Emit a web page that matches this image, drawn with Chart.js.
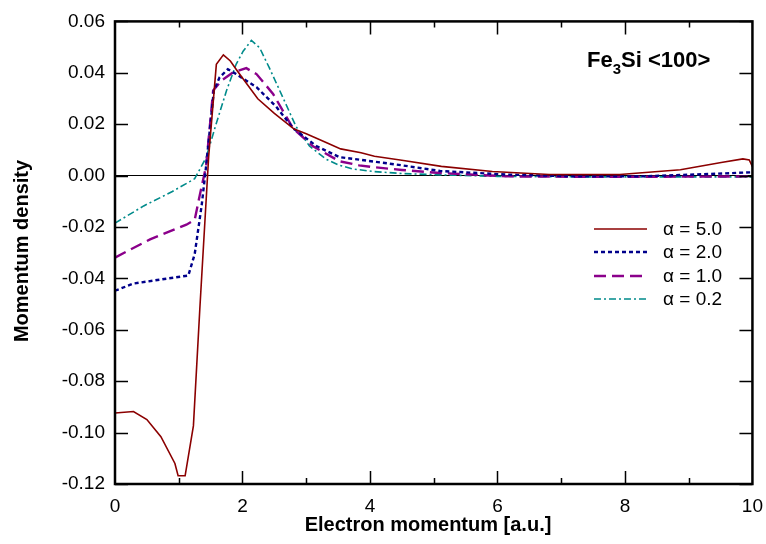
<!DOCTYPE html>
<html>
<head>
<meta charset="utf-8">
<script src="https://cdn.jsdelivr.net/npm/chart.js@4"></script>
<style>
  body { margin:0; background:#fff; }
  canvas { display:block; }
</style>
</head>
<body>
<canvas id="c" width="766" height="544"></canvas>
<script>
// values
const xA50 = [0, 0.29, 0.5, 0.72, 0.94, 0.99, 1.10, 1.23, 1.33, 1.47, 1.59, 1.70, 1.81, 1.90, 2.0, 2.24, 2.5, 2.81, 3.0, 3.33, 3.54, 3.86, 4.07, 4.5, 5.12, 5.92, 6.81, 7.92, 8.87, 9.51, 9.85, 9.95, 10];
const yA50 = [-0.0924, -0.0918, -0.0949, -0.1016, -0.112, -0.1168, -0.1168, -0.0974, -0.0522, 0.0076, 0.0433, 0.047, 0.0446, 0.0414, 0.038, 0.0299, 0.0242, 0.0181, 0.0163, 0.0127, 0.0104, 0.0089, 0.0075, 0.006, 0.0036, 0.0016, 0.0004, 0.0004, 0.0023, 0.0051, 0.0065, 0.0061, 0.0035];

const xA20 = [0, 0.29, 0.81, 1.15, 1.25, 1.36, 1.43, 1.55, 1.64, 1.77, 1.90, 2.22, 2.53, 2.79, 3.16, 3.52, 3.83, 4.05, 4.5, 5.1, 6.15, 7.21, 8.27, 9.31, 10];
const yA20 = [-0.0448, -0.042, -0.0401, -0.0389, -0.0306, -0.0115, 0.0038, 0.033, 0.0382, 0.0414, 0.0395, 0.0344, 0.0268, 0.0185, 0.0115, 0.0072, 0.0062, 0.0055, 0.004, 0.0018, 0.0004, -0.0003, -0.0003, 0.0006, 0.0013];

const xA10 = [0, 0.55, 1.12, 1.25, 1.33, 1.43, 1.54, 1.67, 1.85, 2.06, 2.22, 2.48, 2.79, 3.1, 3.52, 3.83, 4.05, 4.5, 5.1, 6.15, 7.5, 9, 10];
const yA10 = [-0.0319, -0.0248, -0.0191, -0.0172, -0.0076, 0.0038, 0.0331, 0.037, 0.0401, 0.0418, 0.0395, 0.0318, 0.0185, 0.0115, 0.0056, 0.004, 0.0033, 0.0022, 0.001, -0.0003, -0.0005, -0.0004, -0.0003];

const xA02 = [0, 0.45, 0.9, 1.25, 1.43, 1.59, 1.75, 1.90, 2.01, 2.14, 2.27, 2.42, 2.63, 2.84, 3.05, 3.31, 3.52, 3.73, 4.05, 4.5, 5.1, 6, 7.5, 9, 10];
const yA02 = [-0.0185, -0.0118, -0.0062, -0.0012, 0.007, 0.0204, 0.0331, 0.0433, 0.0484, 0.0526, 0.0497, 0.042, 0.0306, 0.0191, 0.0115, 0.0064, 0.0040, 0.0026, 0.0016, 0.0008, 0.0003, -0.0003, -0.0005, -0.0005, -0.0005];

const seriesLabels = ['\u03b1 = 5.0', '\u03b1 = 2.0', '\u03b1 = 1.0', '\u03b1 = 0.2'];
const xTickValues = [0, 2, 4, 6, 8, 10];
const yTickValues = [-0.12, -0.10, -0.08, -0.06, -0.04, -0.02, 0.00, 0.02, 0.04, 0.06];

const FONT = '"Liberation Sans", Arial, sans-serif';

function pts(xs, ys) { return xs.map((x, i) => ({ x, y: ys[i] })); }

function line(label, xs, ys, color, width, dash) {
  return {
    label, data: pts(xs, ys),
    borderColor: color, backgroundColor: color,
    borderWidth: width, borderDash: dash,
    pointRadius: 0, tension: 0, fill: false
  };
}

const datasets = [
  line(seriesLabels[0], xA50, yA50, '#8b0000', 1.6, []),
  line(seriesLabels[1], xA20, yA20, '#00008b', 2.4, [4, 3]),
  line(seriesLabels[2], xA10, yA10, '#8b008b', 2.4, [12, 6]),
  line(seriesLabels[3], xA02, yA02, '#008b8b', 1.6, [7, 3, 2, 3])
];

// frame, inward ticks, titles and legend
const decor = {
  id: 'decor',
  afterDraw(chart) {
    const { ctx, chartArea: a, scales: { x, y } } = chart;
    ctx.save();
    ctx.strokeStyle = '#000';
    ctx.lineWidth = 1.5;
    ctx.setLineDash([]);
    ctx.beginPath();
    for (let v = 1; v < 10; v++) {
      const px = Math.round(x.getPixelForValue(v)) + 0.5;
      const len = v % 2 === 0 ? 13 : 6;
      ctx.moveTo(px, a.bottom); ctx.lineTo(px, a.bottom - len);
      ctx.moveTo(px, a.top); ctx.lineTo(px, a.top + len);
    }
    yTickValues.forEach(v => {
      const py = Math.round(y.getPixelForValue(v)) + 0.5;
      ctx.moveTo(a.left, py); ctx.lineTo(a.left + 13, py);
      ctx.moveTo(a.right, py); ctx.lineTo(a.right - 13, py);
    });
    ctx.stroke();
    ctx.lineWidth = 2.5;
    ctx.strokeRect(a.left, a.top, a.right - a.left, a.bottom - a.top);

    ctx.fillStyle = '#000';
    // axis titles
    ctx.font = 'bold 20px ' + FONT;
    ctx.textAlign = 'center';
    ctx.textBaseline = 'middle';
    ctx.fillText('Electron momentum [a.u.]', 428, 525);
    ctx.save();
    ctx.translate(22, 251);
    ctx.rotate(-Math.PI / 2);
    ctx.fillText('Momentum density', 0, 0);
    ctx.restore();

    // panel label Fe3Si <100>
    ctx.textAlign = 'left';
    ctx.textBaseline = 'alphabetic';
    let tx = 587;
    ctx.font = 'bold 22px ' + FONT;
    ctx.fillText('Fe', tx, 67);
    tx += ctx.measureText('Fe').width;
    ctx.font = 'bold 15px ' + FONT;
    ctx.fillText('3', tx, 74);
    tx += ctx.measureText('3').width;
    ctx.font = 'bold 22px ' + FONT;
    ctx.fillText('Si <100>', tx, 67);

    // legend
    const rows = [229, 252, 276, 299];
    ctx.font = '19px ' + FONT;
    ctx.textBaseline = 'middle';
    chart.data.datasets.forEach((d, i) => {
      ctx.strokeStyle = d.borderColor;
      ctx.lineWidth = d.borderWidth;
      ctx.setLineDash(d.borderDash);
      ctx.beginPath();
      ctx.moveTo(594, rows[i]); ctx.lineTo(647, rows[i]);
      ctx.stroke();
      ctx.fillText(d.label, 663, rows[i] + 1);
    });
    ctx.restore();
  }
};

new Chart(document.getElementById('c').getContext('2d'), {
  type: 'line',
  data: { datasets },
  options: {
    responsive: false,
    devicePixelRatio: 1,
    animation: false,
    layout: { padding: { top: 13, right: 12, left: 0, bottom: 0 } },
    plugins: { legend: { display: false }, tooltip: { enabled: false } },
    scales: {
      x: {
        type: 'linear', min: 0, max: 10,
        afterBuildTicks: s => { s.ticks = xTickValues.map(v => ({ value: v })); },
        afterFit: s => { s.height = 60; },
        grid: { display: false },
        border: { display: false },
        ticks: { color: '#000', font: { family: FONT, size: 19 }, padding: 3, maxRotation: 0 }
      },
      y: {
        min: -0.12, max: 0.06,
        afterBuildTicks: s => { s.ticks = yTickValues.map(v => ({ value: v })); },
        afterFit: s => { s.width = 115; },
        grid: {
          drawTicks: false,
          lineWidth: 1,
          color: c => (c.tick && Math.abs(c.tick.value) < 1e-9) ? '#000' : 'rgba(0,0,0,0)'
        },
        border: { display: false },
        ticks: {
          color: '#000', font: { family: FONT, size: 19 }, padding: 10,
          callback: v => v.toFixed(2)
        }
      }
    }
  },
  plugins: [decor]
});
</script>
</body>
</html>
